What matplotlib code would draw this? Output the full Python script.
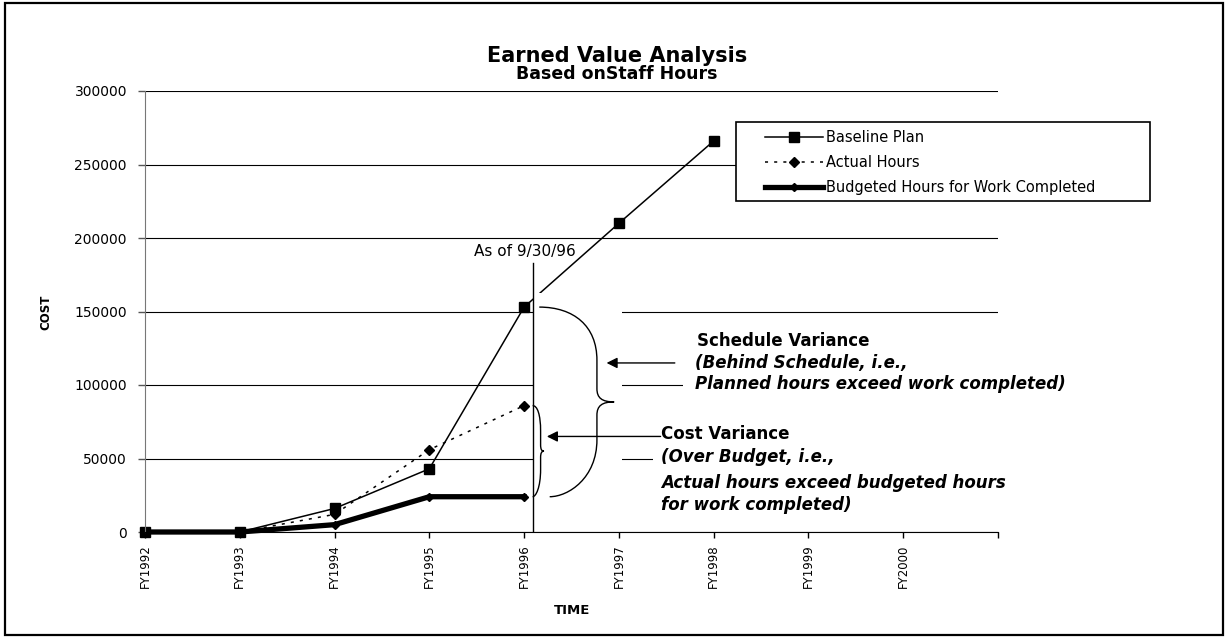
import matplotlib
matplotlib.use("Agg")
import matplotlib.pyplot as plt
from matplotlib.patches import Rectangle, PathPatch
from matplotlib.path import Path


# Chart data
years = ["FY1992", "FY1993", "FY1994", "FY1995", "FY1996",
         "FY1997", "FY1998", "FY1999", "FY2000"]
baseline_plan = [0, 0, 16000, 43000, 153000, 210000, 266000]
actual_hours = [0, 0, 12000, 56000, 86000]
budgeted_hours = [0, 0, 5000, 24000, 24000]
y_ticks = [0, 50000, 100000, 150000, 200000, 250000, 300000]

status_label = "As of 9/30/96"
status_x = 4.09          # just after FY1996
status_x_index = 4       # FY1996 values used for the braces


# Function to draw a right-pointing curly brace in data coords
def drawBrace(ax, x0, yTop, yBot, width, bodyFrac=0.78, xBot=None, lw=1.0):
    if xBot is None:
        xBot = x0
    h = yTop - yBot
    ym = (yTop + yBot) / 2
    xb = x0 + bodyFrac * width
    xt = x0 + width
    verts = [
        (x0, yTop),
        (x0 + 0.6 * (xb - x0), yTop), (xb, yTop - 0.1 * h), (xb, yTop - 0.28 * h),
        (xb, ym + 0.07 * h),
        (xb, ym + 0.02 * h), (xb + 0.3 * (xt - xb), ym), (xt, ym),
        (xb + 0.3 * (xt - xb), ym), (xb, ym - 0.02 * h), (xb, ym - 0.07 * h),
        (xb, yBot + 0.3 * h),
        (xb, yBot + 0.1 * h), (xBot + 0.4 * (xb - xBot), yBot), (xBot, yBot),
    ]
    C = Path.CURVE4
    codes = [Path.MOVETO, C, C, C, Path.LINETO, C, C, C, C, C, C,
             Path.LINETO, C, C, C]
    ax.add_patch(PathPatch(Path(verts, codes), fill=False, ec="black",
                           lw=lw, zorder=3))


W, H = 1228, 638
fig = plt.figure(figsize=(W / 100, H / 100), dpi=100)
ax = fig.add_axes([145 / W, 1 - 532 / H, (998 - 145) / W, (532 - 91) / H])

x_all = list(range(len(years)))

# Series
ax.plot(x_all[:len(baseline_plan)], baseline_plan, color="black", lw=1.1,
        marker="s", ms=7.5, label="Baseline Plan", zorder=2, clip_on=False)
ax.plot(x_all[:len(actual_hours)], actual_hours, color="black", lw=1.1,
        linestyle=(0, (2, 4)), marker="D", ms=5.5, label="Actual Hours",
        zorder=2, clip_on=False)
ax.plot(x_all[:len(budgeted_hours)], budgeted_hours, color="black", lw=3.8,
        marker="D", ms=4.5, label="Budgeted Hours for Work Completed",
        zorder=2, clip_on=False)

# Axes setup
ax.set_xlim(0, len(years))
ax.set_ylim(y_ticks[0], y_ticks[-1])
ax.set_xticks(list(range(len(years) + 1)))
ax.set_xticklabels(years + [""], rotation=90, fontsize=8.5)
ax.set_yticks(y_ticks)
ax.set_yticklabels([str(v) for v in y_ticks], fontsize=10)
ax.tick_params(axis="x", direction="out", length=4, width=1, pad=5)
ax.tick_params(axis="y", direction="out", length=5, width=1, pad=8,
               color="#555555")
ax.spines["top"].set_visible(False)
ax.spines["right"].set_visible(False)
ax.spines["left"].set_color("#777777")
ax.spines["bottom"].set_color("black")
ax.set_axisbelow(True)
ax.yaxis.grid(True, color="black", lw=0.8)

# White patches that break the gridlines behind the annotations
ax.add_patch(Rectangle((4.1, 30000), 0.93, 132500, fc="white", ec="none",
                       zorder=2.5))
ax.add_patch(Rectangle((5.675, 93000), 5.0, 44500, fc="white", ec="none",
                       zorder=2.5, clip_on=False))
ax.add_patch(Rectangle((5.36, 11500), 5.2, 61500, fc="white", ec="none",
                       zorder=2.5, clip_on=False))

# Status date line
ax.plot([status_x, status_x], [0, 183000], color="black", lw=1.0, zorder=3)
ax.text(4.01, 191000, status_label, ha="center", va="center", fontsize=11)

# Braces
drawBrace(ax, 4.16, baseline_plan[status_x_index],
          budgeted_hours[status_x_index], 0.79, bodyFrac=0.77, xBot=4.27)
drawBrace(ax, status_x, actual_hours[status_x_index],
          budgeted_hours[status_x_index], 0.12, bodyFrac=0.7)

# Arrows
arrow_style = dict(arrowstyle="-|>", color="black", lw=1.0,
                   mutation_scale=16, shrinkA=0, shrinkB=0)
ax.annotate("", xy=(4.87, 115000), xytext=(5.59, 115000),
            arrowprops=arrow_style, zorder=3)
ax.annotate("", xy=(4.24, 65000), xytext=(5.44, 65000),
            arrowprops=arrow_style, zorder=3)

# Annotation texts
ax.text(5.82, 129900, "Schedule Variance", fontsize=12, fontweight="bold",
        va="center", zorder=4)
ax.text(5.80, 115000, "(Behind Schedule, i.e.,", fontsize=12,
        fontweight="bold", style="italic", va="center", zorder=4)
ax.text(5.80, 101000, "Planned hours exceed work completed)", fontsize=12,
        fontweight="bold", style="italic", va="center", zorder=4)

ax.text(5.44, 66500, "Cost Variance", fontsize=12, fontweight="bold",
        va="center", zorder=4)
ax.text(5.44, 51000, "(Over Budget, i.e.,", fontsize=12,
        fontweight="bold", style="italic", va="center", zorder=4)
ax.text(5.44, 33500, "Actual hours exceed budgeted hours", fontsize=12,
        fontweight="bold", style="italic", va="center", zorder=4)
ax.text(5.44, 18500, "for work completed)", fontsize=12,
        fontweight="bold", style="italic", va="center", zorder=4)

# Legend with a hand-made white frame
ax.add_patch(Rectangle((736 / W, 1 - 201 / H), (1150 - 736) / W,
                       (201 - 122) / H, transform=fig.transFigure,
                       fc="white", ec="black", lw=1.2, zorder=4.9,
                       clip_on=False))
ax.legend(loc="upper left", bbox_to_anchor=(765 / W, 1 - 130 / H),
          bbox_transform=fig.transFigure, frameon=False, borderpad=0,
          borderaxespad=0, handlelength=4.0, handletextpad=0.2,
          labelspacing=0.7, fontsize=10.5)

# Titles and axis labels
fig.text(617 / W, 1 - 56 / H, "Earned Value Analysis", ha="center",
         va="center", fontsize=15, fontweight="bold")
fig.text(617 / W, 1 - 74 / H, "Based onStaff Hours", ha="center",
         va="center", fontsize=12.5, fontweight="bold")
fig.text(46 / W, 1 - 312 / H, "COST", rotation=90, ha="center",
         va="center", fontsize=8.5, fontweight="bold")
fig.text(572 / W, 1 - 610 / H, "TIME", ha="center", va="center",
         fontsize=9.5, fontweight="bold")

# Outer border
fig.add_artist(Rectangle((0.004, 0.005), 0.992, 0.99,
                         transform=fig.transFigure, fill=False,
                         ec="black", lw=1.6))

fig.savefig("out.png", dpi=100)
